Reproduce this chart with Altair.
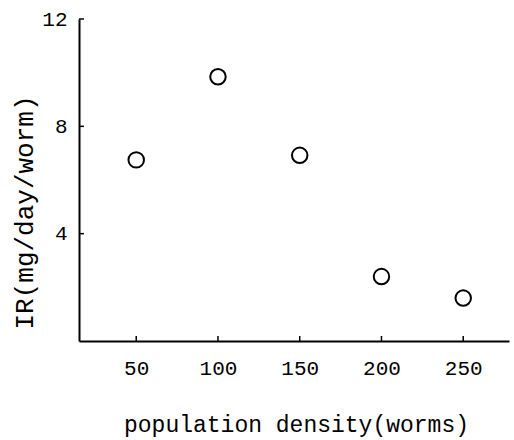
import altair as alt
import pandas as pd

density = [50, 100, 150, 200, 250]
ir = [6.75, 9.85, 6.92, 2.4, 1.6]
x_ticks = [50, 100, 150, 200, 250]
y_ticks = [4, 8, 12]

df = pd.DataFrame({"density": density, "ir": ir})
FONT = "Liberation Mono"

xscale = alt.Scale(domain=[15, 278], nice=False, zero=False)
yscale = alt.Scale(domain=[0, 12], nice=False, zero=False)

x_axis = alt.Axis(
    values=x_ticks, ticks=False, grid=False, domainColor="black", domainWidth=2,
    labelFont=FONT, labelFontSize=21, labelColor="black", labelPadding=16,
    title="population density(worms)", titleFont=FONT, titleFontSize=23,
    titleFontWeight="normal", titleColor="black", titleX=217, titleY=90,
    titleBaseline="alphabetic", titleAlign="center")
y_axis = alt.Axis(
    values=y_ticks, ticks=False, grid=False, domainColor="black", domainWidth=2,
    labelFont=FONT, labelFontSize=21, labelColor="black", labelPadding=12,
    title="IR(mg/day/worm)", titleFont=FONT, titleFontSize=26,
    titleFontWeight="normal", titleColor="black", titleX=-55, titleY=193,
    titleAngle=-90, titleBaseline="middle", titleAlign="center")

points = alt.Chart(df).mark_point(
    shape="circle", filled=False, size=240, strokeWidth=2, color="black", opacity=1
).encode(
    x=alt.X("density:Q", scale=xscale, axis=x_axis),
    y=alt.Y("ir:Q", scale=yscale, axis=y_axis),
)

xt = alt.Chart(pd.DataFrame({"t": x_ticks})).mark_rule(color="black", strokeWidth=1.5).encode(
    x=alt.X("t:Q", scale=xscale, axis=x_axis), y=alt.value(322), y2=alt.value(317))
yt = alt.Chart(pd.DataFrame({"t": y_ticks})).mark_rule(color="black", strokeWidth=1.5).encode(
    y=alt.Y("t:Q", scale=yscale, axis=y_axis), x=alt.value(0), x2=alt.value(5))

chart = alt.layer(points, xt, yt).properties(
    width=430, height=322,
    autosize=alt.AutoSizeParams(type="none"),
    padding={"left": 79, "top": 19, "right": 5, "bottom": 99},
    background="white",
).configure_view(stroke=None)

chart.save("out.html", embed_options={"renderer": "svg", "actions": False})
